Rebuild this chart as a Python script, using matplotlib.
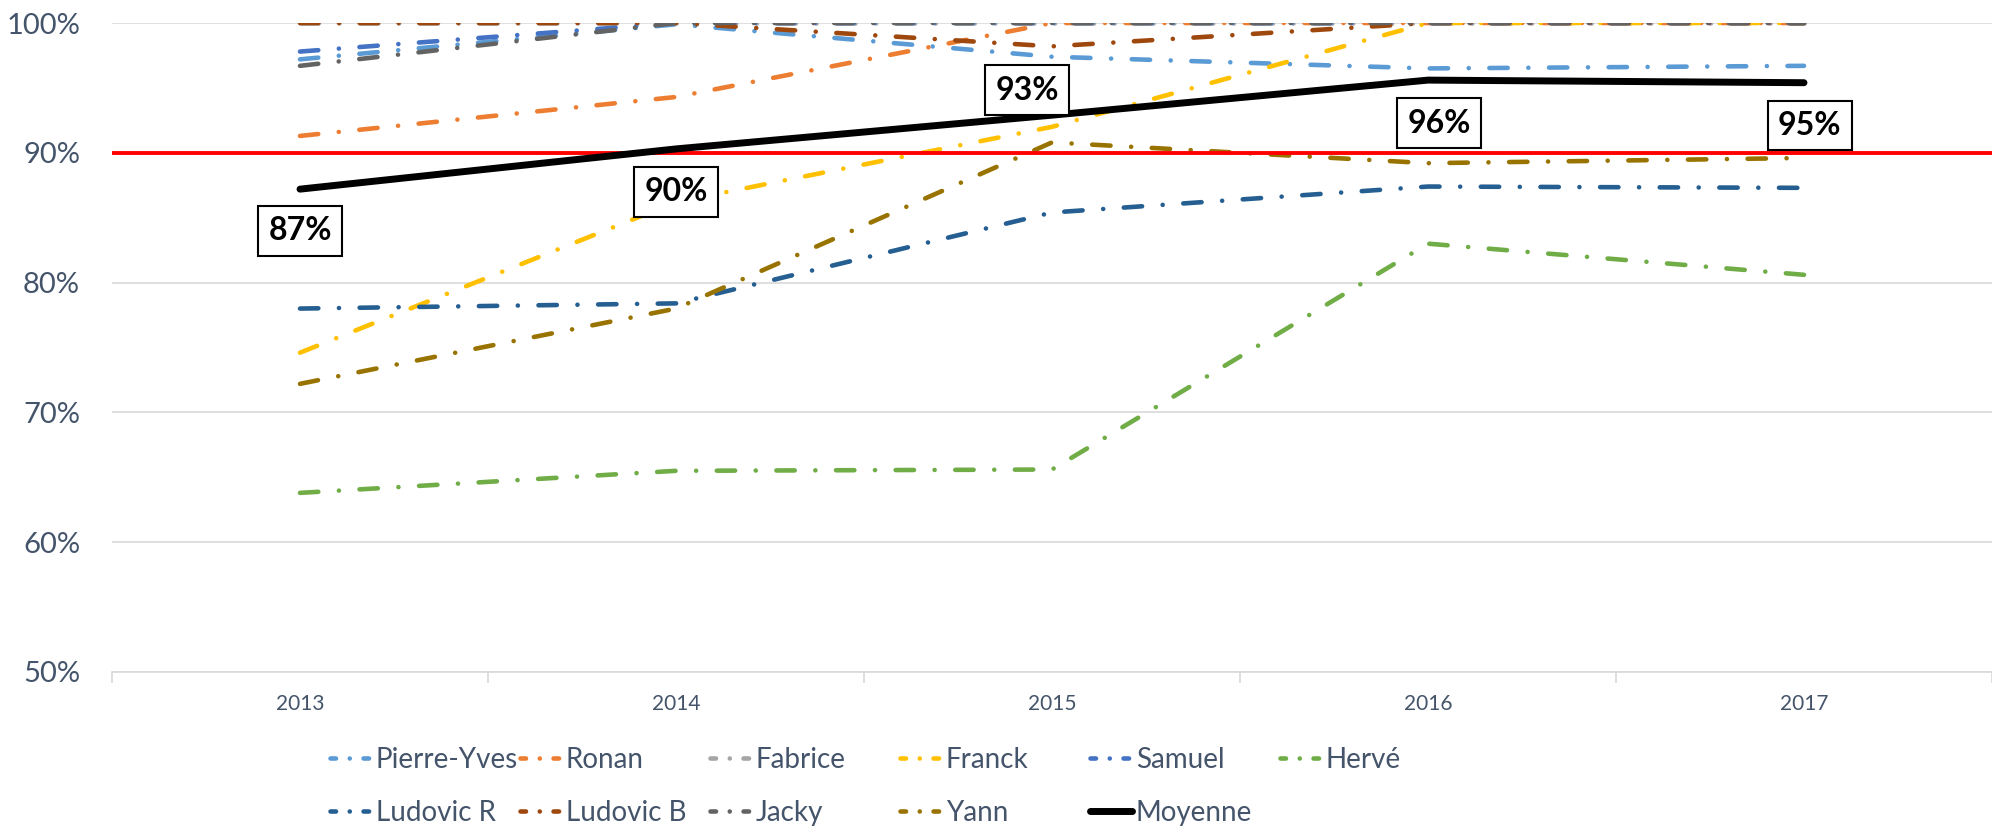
import matplotlib
matplotlib.use("Agg")
import matplotlib.pyplot as plt
import matplotlib.ticker as ticker
from matplotlib.lines import Line2D

plt.rcParams["font.family"] = ["Lato", "DejaVu Sans"]

# Données
years = ["2013", "2014", "2015", "2016", "2017"]
names = ["Pierre-Yves", "Ronan", "Fabrice", "Franck", "Samuel", "Hervé",
         "Ludovic R", "Ludovic B", "Jacky", "Yann"]
pierre_yves = [97.2, 99.9, 97.4, 96.5, 96.7]
ronan = [91.3, 94.3, 100.0, 100.0, 100.0]
fabrice = [100.0, 100.0, 100.0, 100.0, 100.0]
franck = [74.6, 86.2, 92.0, 100.0, 100.0]
samuel = [97.8, 100.0, 100.0, 100.0, 100.0]
herve = [63.8, 65.5, 65.6, 83.0, 80.6]
ludovic_r = [78.0, 78.4, 85.4, 87.4, 87.3]
ludovic_b = [100.0, 100.0, 98.2, 100.0, 100.0]
jacky = [96.7, 100.0, 100.0, 100.0, 100.0]
yann = [72.2, 78.0, 90.8, 89.2, 89.6]
moyenne = [87.2, 90.3, 92.9, 95.6, 95.4]
objectif = 90.0

series = [pierre_yves, ronan, fabrice, franck, samuel, herve,
          ludovic_r, ludovic_b, jacky, yann]
colors = ["#5B9BD5", "#ED7D31", "#A5A5A5", "#FFC000", "#4472C4", "#70AD47",
          "#255E91", "#9E480E", "#636363", "#997300"]

TEXT = "#44546A"
W, H = 1992, 834

fig = plt.figure(figsize=(W / 100, H / 100), dpi=100)
ax = fig.add_axes([112 / W, 1 - 672 / H, (W - 112) / W, (672 - 23) / H])

x = list(range(len(years)))
dash = (4.0, 4.5, 0.01, 4.5)
leg_handles = []
leg_labels = []
for vals, name, c in zip(series, names, colors):
    ax.plot(x, [v / 100 for v in vals], color=c, lw=3.3,
            dashes=dash, dash_capstyle="round", zorder=3)
    # motif plus court pour la légende : tiret, point, tiret
    leg_handles.append(Line2D([], [], color=c, lw=3.3, dashes=(1.2, 3.0, 0.01, 3.0),
                              dash_capstyle="round"))
    leg_labels.append(name)

ax.axhline(objectif / 100, color="#FF0000", lw=2.8, zorder=4)

ax.plot(x, [v / 100 for v in moyenne], color="black", lw=5,
        solid_capstyle="round", zorder=5)
leg_handles.append(Line2D([], [], color="black", lw=5, solid_capstyle="round"))
leg_labels.append("Moyenne")

# Étiquettes de la moyenne (décalage en points)
offsets = [(0, -30), (0, -31), (-18, 18), (8, -31), (4, -31)]
for xi, v, off in zip(x, moyenne, offsets):
    ax.annotate(f"{round(v):.0f}%", (xi, v / 100), xytext=off,
                textcoords="offset points", ha="center", va="center",
                fontsize=23, fontweight="bold", color="black", zorder=6,
                bbox=dict(boxstyle="square,pad=0.32", fc="white", ec="black", lw=1.5))

ax.set_xlim(-0.5, len(years) - 0.5)
ax.set_ylim(0.5, 1.0)
ax.yaxis.set_major_locator(ticker.MultipleLocator(0.1))
ax.yaxis.set_major_formatter(ticker.PercentFormatter(1.0, decimals=0))
ax.grid(axis="y", color="#D9D9D9", lw=1.2, zorder=0)
ax.set_xticks(x)
ax.set_xticklabels(years)
ax.set_xticks([i + 0.5 for i in range(-1, len(years))], minor=True)
ax.tick_params(axis="x", which="major", length=0, labelsize=15, labelcolor=TEXT, pad=16)
ax.tick_params(axis="x", which="minor", length=8, color="#D9D9D9", width=1.2)
ax.tick_params(axis="y", length=0, labelsize=21, labelcolor=TEXT, pad=23)
for side in ["top", "right", "left"]:
    ax.spines[side].set_visible(False)
ax.spines["bottom"].set_color("#D9D9D9")
ax.spines["bottom"].set_linewidth(1.2)
ax.set_facecolor("none")

# Légende : deux lignes de colonnes fixes
col_x0, col_w = 330, 190
row_y = [760, 813]
for i, (h, lab) in enumerate(zip(leg_handles, leg_labels)):
    r, c = divmod(i, 6)
    fig.legend(handles=[h], labels=[lab], loc="center left",
               bbox_to_anchor=((col_x0 + c * col_w) / W, 1 - row_y[r] / H),
               frameon=False, borderpad=0, borderaxespad=0, handlelength=1.5,
               handletextpad=0.15, fontsize=20, labelcolor=TEXT)

fig.savefig("out.png", dpi=100)
